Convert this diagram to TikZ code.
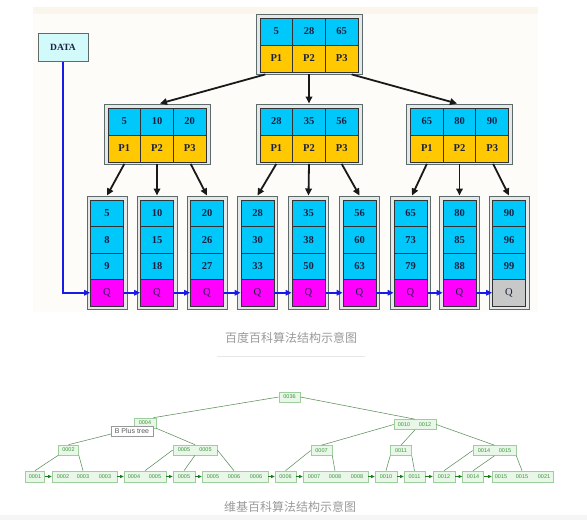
\documentclass[tikz,border=0pt]{standalone}
\usepackage{fontspec}
\setmainfont{Liberation Serif}
\newfontfamily\cjk{Noto Sans CJK SC}
\newfontfamily\lsans{Liberation Sans}
\usetikzlibrary{calc,arrows.meta}
\definecolor{kblue}{HTML}{00C8FA}
\definecolor{pyel}{HTML}{FFC800}
\definecolor{qmag}{HTML}{FF00FF}
\definecolor{qgray}{HTML}{C8C8C8}
\definecolor{ink}{HTML}{1B2142}
\definecolor{frame}{HTML}{5E6B6B}
\definecolor{outerfill}{HTML}{E4E8E8}
\definecolor{dblue}{HTML}{1A1AE6}
\definecolor{datafill}{HTML}{D2FAFA}
\definecolor{panelc}{HTML}{FDFCF9}
\definecolor{bandc}{HTML}{FAF6EC}
\definecolor{gfill}{HTML}{E9F7E9}
\definecolor{gedgec}{HTML}{9CCF9C}
\definecolor{gtext}{HTML}{3C963C}
\definecolor{glinec}{HTML}{5F8F5F}
\definecolor{garrowc}{HTML}{1E7A1E}
\definecolor{capgray}{HTML}{9A9A9A}
\begin{document}
\begin{tikzpicture}[x=1pt,y=-1pt,
  outer/.style={draw=frame,line width=1pt,fill=outerfill,inner sep=0pt,minimum width=106pt,minimum height=60pt},
  leafouter/.style={draw=frame,line width=1pt,fill=outerfill,inner sep=0pt,minimum width=40pt,minimum height=113pt},
  cell/.style={draw=black!80,line width=0.8pt,inner sep=0pt,minimum width=32.67pt,minimum height=27pt,text=ink,font=\bfseries\fontsize{10.5}{11}\selectfont},
  kcell/.style={cell,fill=kblue},
  pcell/.style={cell,fill=pyel},
  lcell/.style={cell,fill=kblue,minimum width=33pt,minimum height=26.5pt},
  qcell/.style={lcell,font=\fontsize{10.5}{11}\selectfont},
  databox/.style={draw=frame,line width=1pt,fill=datafill,inner sep=0pt,minimum width=50pt,minimum height=28pt,text=ink,font=\bfseries\fontsize{9.5}{10}\selectfont},
  tarrow/.style={-{Triangle[length=7pt,width=6.5pt]},line width=1.8pt,draw=black!90},
  barrow/.style={-{Triangle[length=6pt,width=5.5pt]},line width=2.2pt,draw=dblue},
  gbox/.style={draw=gedgec,fill=gfill,line width=0.6pt,inner sep=0pt,minimum height=10pt,text=gtext,font=\lsans\fontsize{5.5}{6}\selectfont},
  gkey/.style={inner sep=0pt,text=gtext,font=\lsans\fontsize{5.5}{6}\selectfont},
  glink/.style={draw=glinec,line width=0.55pt},
  garr/.style={-{Triangle[length=3.5pt,width=3pt]},draw=garrowc,line width=0.6pt},
  tipbox/.style={draw=black!40,fill=white,line width=0.6pt,inner sep=0pt,minimum width=42pt,minimum height=10pt,text=black!65,font=\lsans\fontsize{7}{8}\selectfont},
  caption/.style={text=capgray,font=\cjk\fontsize{12}{12}\selectfont}]
\useasboundingbox (0,0) rectangle (587,520);
\fill[white] (0,0) rectangle (587,520);
\fill[black!4] (0,515) rectangle (587,520);
% upper panel
\fill[panelc] (33,7) rectangle (538,312);
\fill[bandc] (33,7) rectangle (538,14);
% internal nodes
\foreach \nm/\cx/\ty/\a/\b/\c in {R/309/14/5/28/65, A/157/104/5/10/20, B/309/104/28/35/56, C/459.5/104/65/80/90}{
  \node[outer] (\nm) at (\cx,\ty+30) {};
  \node[kcell] (\nm-k1) at (\cx-32.67,\ty+17.5) {\a};
  \node[kcell] (\nm-k2) at (\cx,\ty+17.5) {\b};
  \node[kcell] (\nm-k3) at (\cx+32.67,\ty+17.5) {\c};
  \node[pcell] (\nm-p1) at (\cx-32.67,\ty+44.5) {P1};
  \node[pcell] (\nm-p2) at (\cx,\ty+44.5) {P2};
  \node[pcell] (\nm-p3) at (\cx+32.67,\ty+44.5) {P3};
}
% leaves
\foreach \i/\cx/\a/\b/\c/\qc in {1/107/5/8/9/qmag, 2/157/10/15/18/qmag, 3/207/20/26/27/qmag, 4/257.5/28/30/33/qmag, 5/308.5/35/38/50/qmag, 6/359.5/56/60/63/qmag, 7/410.5/65/73/79/qmag, 8/459.5/80/85/88/qmag, 9/509/90/96/99/qgray}{
  \node[leafouter] (L\i) at (\cx,252.5) {};
  \node[lcell] (L\i-a) at (\cx,213.25) {\a};
  \node[lcell] (L\i-b) at (\cx,239.75) {\b};
  \node[lcell] (L\i-c) at (\cx,266.25) {\c};
  \node[qcell,fill=\qc] (L\i-q) at (\cx,292.75) {Q};
}
% DATA
\node[databox] (data) at (63,47) {DATA};
% black arrows
\draw[tarrow] ($(R-p1.south)+(-11,2)$) -- ($(A.north)+(3,0)$);
\draw[tarrow] ($(R-p2.south)+(0,2)$) -- (B.north);
\draw[tarrow] ($(R-p3.south)+(10,2)$) -- ($(C.north)+(-2.5,0)$);
\draw[tarrow] ($(A-p1.south)+(0,1.5)$) -- (L1.north);
\draw[tarrow] ($(A-p2.south)+(0,1.5)$) -- (L2.north);
\draw[tarrow] ($(A-p3.south)+(1,1.5)$) -- (L3.north);
\draw[tarrow] ($(B-p1.south)+(0,1.5)$) -- (L4.north);
\draw[tarrow] ($(B-p2.south)+(0,1.5)$) -- (L5.north);
\draw[tarrow] ($(B-p3.south)+(0,1.5)$) -- (L6.north);
\draw[tarrow] ($(C-p1.south)+(0,1.5)$) -- ($(L7.north)+(1.5,0)$);
\draw[tarrow] ($(C-p2.south)+(0,1.5)$) -- (L8.north);
\draw[tarrow] ($(C-p3.south)+(1,1.5)$) -- (L9.north);
% blue links
\draw[barrow] (data.south) |- (L1-q.west);
\foreach \i/\j in {1/2,2/3,3/4,4/5,5/6,6/7,7/8,8/9}{
  \draw[barrow] (L\i-q.east) -- (L\j-q.west);
}
% caption 1 and separator
\node[caption] (cap1) at (291,338) {百度百科算法结构示意图};
\draw[black!9,line width=0.8pt] (217,356) -- (365,356);
% ---------- lower B+ tree ----------
\node[gbox,minimum width=21pt] (T0) at (289.5,397) {0036};
\node[gbox,minimum width=22pt] (T1) at (145,423) {0004};
\node[gbox,minimum width=42pt] (T2) at (415,424.5) {};
\node[gkey] (T2a) at (404,424.5) {0010};
\node[gkey] (T2b) at (425,424.5) {0012};
\node[gbox,minimum width=20pt] (T3) at (68.5,450) {0002};
\node[gbox,minimum width=44pt] (T4) at (195,450) {};
\node[gkey] (T4a) at (184,450) {0005};
\node[gkey] (T4b) at (205.5,450) {0005};
\node[gbox,minimum width=21pt] (T5) at (321.5,450.5) {0007};
\node[gbox,minimum width=21pt] (T6) at (401,450.5) {0011};
\node[gbox,minimum width=43pt] (T7) at (494.5,450.5) {};
\node[gkey] (T7a) at (484,450.5) {0014};
\node[gkey] (T7b) at (505,450.5) {0015};
% leaves
\node[gbox,minimum width=19pt,minimum height=11pt] (B1) at (35,476.5) {0001};
\node[gbox,minimum width=65pt,minimum height=11pt] (B2) at (84.5,476.5) {};
\node[gkey] (B2a) at (63,476.5) {0002};
\node[gkey] (B2b) at (83,476.5) {0003};
\node[gkey] (B2c) at (105,476.5) {0003};
\node[gbox,minimum width=42pt,minimum height=11pt] (B3) at (145,476.5) {};
\node[gkey] (B3a) at (134,476.5) {0004};
\node[gkey] (B3b) at (155,476.5) {0005};
\node[gbox,minimum width=22pt,minimum height=11pt] (B4) at (184,476.5) {0005};
\node[gbox,minimum width=66pt,minimum height=11pt] (B5) at (235,476.5) {};
\node[gkey] (B5a) at (213,476.5) {0005};
\node[gkey] (B5b) at (234,476.5) {0006};
\node[gkey] (B5c) at (256,476.5) {0006};
\node[gbox,minimum width=21pt,minimum height=11pt] (B6) at (285.5,476.5) {0006};
\node[gbox,minimum width=65pt,minimum height=11pt] (B7) at (335.5,476.5) {};
\node[gkey] (B7a) at (314,476.5) {0007};
\node[gkey] (B7b) at (335,476.5) {0008};
\node[gkey] (B7c) at (357,476.5) {0008};
\node[gbox,minimum width=22pt,minimum height=11pt] (B8) at (386,476.5) {0010};
\node[gbox,minimum width=21pt,minimum height=11pt] (B9) at (414.5,476.5) {0011};
\node[gbox,minimum width=22pt,minimum height=11pt] (B10) at (444,476.5) {0012};
\node[gbox,minimum width=21pt,minimum height=11pt] (B11) at (473,476.5) {0014};
\node[gbox,minimum width=61pt,minimum height=11pt] (B12) at (522.5,476.5) {};
\node[gkey] (B12a) at (501,476.5) {0015};
\node[gkey] (B12b) at (522,476.5) {0015};
\node[gkey] (B12c) at (544,476.5) {0021};
% tree links
\draw[glink] (T0.west) -- ($(T1.north east)+(-3,0)$);
\draw[glink] (T0.east) -- (T2.north);
\draw[glink] (T3.north) -- (T1.south west);
\draw[glink] (T1.south east) -- (T4.north);
\draw[glink] (T2.west) -- (T5.north);
\draw[glink] (T2.south) -- (T6.north);
\draw[glink] (T2.east) -- (T7.north);
\draw[glink] (T3.south west) -- (B1.north);
\draw[glink] (T3.south east) -- (B2b |- B2.north);
\draw[glink] (T4.west) -- (B3.north);
\draw[glink] (T4.south) -- (B4.north);
\draw[glink] (T4.east) -- (B5b |- B5.north);
\draw[glink] (T5.west) -- (B6.north);
\draw[glink] (T5.south east) -- (B7b |- B7.north);
\draw[glink] (T6.south west) -- (B8.north);
\draw[glink] (T6.south east) -- (B9.north);
\draw[glink] (T7.west) -- (B10.north);
\draw[glink] (T7.south) -- (B11.north);
\draw[glink] (T7.south east) -- (B12b |- B12.north);
\foreach \i/\j in {1/2,2/3,3/4,4/5,5/6,6/7,7/8,8/9,9/10,10/11,11/12}{
  \draw[garr] (B\i.east) -- (B\j.west);
}
\node[tipbox] (tip) at (132,431) {B Plus tree};
% caption 2
\node[caption] (cap2) at (290,507) {维基百科算法结构示意图};
\end{tikzpicture}
\end{document}
